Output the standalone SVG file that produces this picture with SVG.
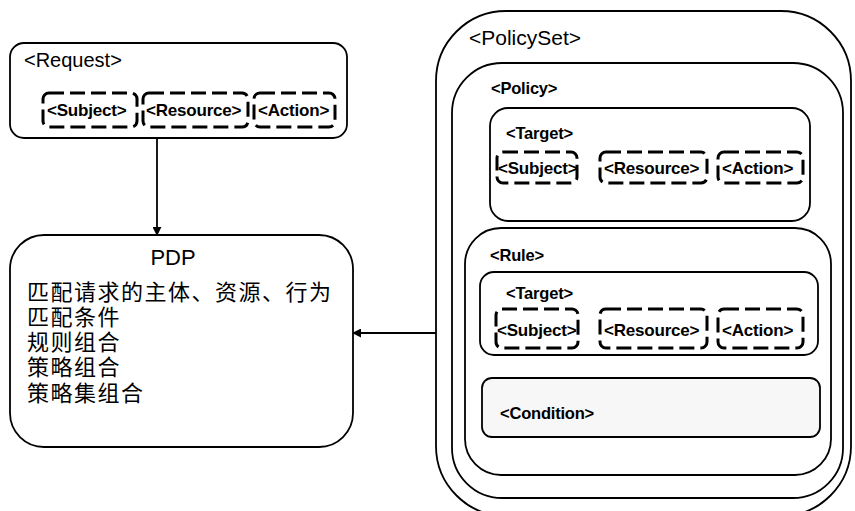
<svg xmlns="http://www.w3.org/2000/svg" width="855" height="511" viewBox="0 0 855 511">
  <defs>
    <marker id="arrow" viewBox="0 0 10 10" refX="9" refY="5" markerWidth="9" markerHeight="9" markerUnits="userSpaceOnUse" orient="auto">
      <path d="M0,0 L10,5 L0,10 z" fill="#000"/>
    </marker>
  </defs>
  <style>
    .box { fill: #fff; stroke: #000; stroke-width: 1.8; }
    .dash { fill: none; stroke: #000; stroke-width: 3; stroke-dasharray: 15 6; }
    .cond { fill: #f7f7f7; stroke: #000; stroke-width: 1.8; }
    .lbl { font-family: "Liberation Sans", Arial, sans-serif; fill: #000; }
    .big { font-size: 20px; }
    .sm { font-size: 17px; font-weight: bold; letter-spacing: -0.2px; }
    .hd { font-size: 16.5px; font-weight: bold; letter-spacing: -0.2px; }
    .cjk { font-family: "Liberation Serif", "Noto Sans CJK SC", serif; font-size: 22px; letter-spacing: 1.5px; fill: #000; }
    .conn { fill: none; stroke: #000; stroke-width: 1.8; }
  </style>

  <!-- Request -->
  <g id="request">
    <rect class="box" x="10" y="43" width="337" height="95" rx="14"/>
    <text class="lbl big" x="24" y="67">&lt;Request&gt;</text>
    <g id="request-subject">
      <rect class="dash" x="43" y="93" width="94" height="34" rx="6"/>
      <text class="lbl sm" x="47" y="116">&lt;Subject&gt;</text>
    </g>
    <g id="request-resource">
      <rect class="dash" x="143" y="93" width="105" height="34" rx="6"/>
      <text class="lbl sm" x="146" y="116">&lt;Resource&gt;</text>
    </g>
    <g id="request-action">
      <rect class="dash" x="254" y="93" width="81" height="34" rx="6"/>
      <text class="lbl sm" x="258" y="116">&lt;Action&gt;</text>
    </g>
  </g>

  <!-- PDP -->
  <g id="pdp">
    <rect class="box" x="10" y="235" width="343" height="212" rx="34"/>
    <text class="lbl" x="173" y="265" font-size="22" text-anchor="middle">PDP</text>
    <text class="cjk" x="27" y="300">匹配请求的主体、资源、行为</text>
    <text class="cjk" x="27" y="325">匹配条件</text>
    <text class="cjk" x="27" y="350">规则组合</text>
    <text class="cjk" x="27" y="375">策略组合</text>
    <text class="cjk" x="27" y="401">策略集组合</text>
  </g>

  <!-- PolicySet with nested Policy -->
  <g id="policyset">
    <rect class="box" x="436" y="11" width="415" height="505" rx="70"/>
    <text class="lbl" x="469" y="45" font-size="21">&lt;PolicySet&gt;</text>
  </g>

  <g id="policy">
    <rect class="box" x="452" y="63" width="391" height="435" rx="50"/>
    <text class="lbl hd" x="491" y="94">&lt;Policy&gt;</text>
  </g>

  <g id="policy-target">
    <rect class="box" x="490" y="108" width="320" height="113" rx="18"/>
    <text class="lbl hd" x="506" y="139">&lt;Target&gt;</text>
    <g id="policy-target-subject">
      <rect class="dash" x="497" y="152" width="80" height="31" rx="6"/>
      <text class="lbl sm" x="498" y="174">&lt;Subject&gt;</text>
    </g>
    <g id="policy-target-resource">
      <rect class="dash" x="600" y="152" width="107" height="31" rx="6"/>
      <text class="lbl sm" x="604" y="174">&lt;Resource&gt;</text>
    </g>
    <g id="policy-target-action">
      <rect class="dash" x="718" y="152" width="85" height="31" rx="6"/>
      <text class="lbl sm" x="722" y="174">&lt;Action&gt;</text>
    </g>
  </g>

  <g id="rule">
    <rect class="box" x="465" y="228" width="366" height="247" rx="36"/>
    <text class="lbl hd" x="490" y="261">&lt;Rule&gt;</text>
  </g>

  <g id="rule-target">
    <rect class="box" x="480" y="272" width="338" height="83" rx="14"/>
    <text class="lbl hd" x="506" y="299">&lt;Target&gt;</text>
    <g id="rule-target-subject">
      <rect class="dash" x="496" y="309" width="82" height="39" rx="6"/>
      <text class="lbl sm" x="497" y="336">&lt;Subject&gt;</text>
    </g>
    <g id="rule-target-resource">
      <rect class="dash" x="600" y="309" width="107" height="39" rx="6"/>
      <text class="lbl sm" x="604" y="336">&lt;Resource&gt;</text>
    </g>
    <g id="rule-target-action">
      <rect class="dash" x="718" y="309" width="85" height="39" rx="6"/>
      <text class="lbl sm" x="722" y="336">&lt;Action&gt;</text>
    </g>
  </g>

  <g id="condition">
    <rect class="cond" x="482" y="378" width="338" height="59" rx="10"/>
    <text class="lbl hd" x="500" y="419">&lt;Condition&gt;</text>
  </g>

  <!-- connectors -->
  <g id="connectors">
    <line class="conn" x1="157" y1="138" x2="157" y2="235" marker-end="url(#arrow)"/>
    <line class="conn" x1="436" y1="333" x2="353" y2="333" marker-end="url(#arrow)"/>
  </g>
</svg>
